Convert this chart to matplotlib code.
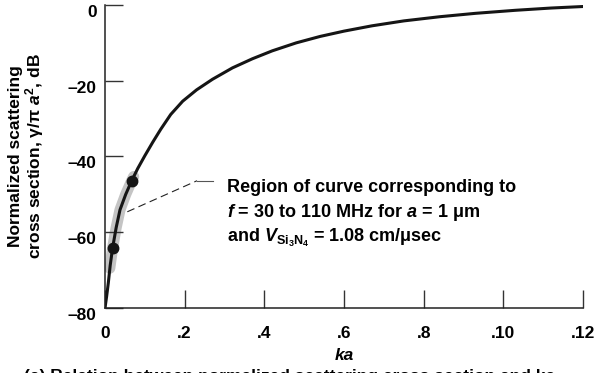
import matplotlib
matplotlib.use("Agg")
import matplotlib.pyplot as plt
import matplotlib.transforms as mtransforms

# fonts: Helvetica-like bold everywhere
plt.rcParams['font.family'] = ['Liberation Sans', 'DejaVu Sans']
plt.rcParams['font.weight'] = 'bold'
plt.rcParams['mathtext.fontset'] = 'custom'
plt.rcParams['mathtext.rm'] = 'Liberation Sans:bold'
plt.rcParams['mathtext.it'] = 'Liberation Sans:bold:italic'
plt.rcParams['mathtext.bf'] = 'Liberation Sans:bold'

# curve (ka, dB)
ka = [0, 0.0004, 0.00083, 0.0013, 0.0019, 0.0028, 0.00376, 0.0052, 0.0067, 0.0082,
      0.0100, 0.0120, 0.0140, 0.0165, 0.0195, 0.0230, 0.0270, 0.0320, 0.0370, 0.0420,
      0.0480, 0.0540, 0.0600, 0.0670, 0.0750, 0.0840, 0.0930, 0.1030, 0.1120, 0.1200]
db = [-80, -77.0, -73.4, -68.8, -64.2, -58.8, -54.1, -50.0, -46.4, -43.2,
      -39.8, -36.2, -32.8, -28.9, -25.4, -22.4, -19.6, -16.6, -14.2, -12.1,
      -10.0, -8.3, -6.9, -5.5, -4.2, -3.1, -2.2, -1.4, -0.8, -0.4]

# highlighted region (30 to 110 MHz)
band_ka = [0.0012, 0.0019, 0.0028, 0.00376, 0.0052, 0.0067, 0.0072]
band_db = [-69.5, -64.2, -58.8, -54.1, -50.0, -46.4, -45.3]
dot_ka = [0.0019, 0.0067]
dot_db = [-64.2, -46.4]

xticks = [0, 0.02, 0.04, 0.06, 0.08, 0.10, 0.12]
xticklabels = ['0', '.2', '.4', '.6', '.8', '.10', '.12']
yticks = [0, -20, -40, -60, -80]
yticklabels = ['0', '\u201320', '\u201340', '\u201360', '\u201380']

fig = plt.figure(figsize=(6, 3.73), dpi=100)
ax = fig.add_axes([0.175, 0.1743, 0.7967, 0.8123])

ax.plot(band_ka, band_db, color='#c4c4c4', lw=8, solid_capstyle='round', zorder=1)
ax.plot(ka, db, color='#151515', lw=2.2, zorder=2)
ax.plot(dot_ka, dot_db, 'o', color='#151515', markersize=7.5, zorder=3)

# leader line to the note
ax.plot([0.0056, 0.0231], [-54.6, -46.4], color='#222222', lw=0.8, dashes=(7, 4), zorder=2)
ax.plot([0.0231, 0.0272], [-46.4, -46.4], color='#555555', lw=0.8, zorder=2)

note_x = 0.0306
ax.text(note_x, -49.3, 'Region of curve corresponding to', fontsize=13, va='baseline')
ax.text(note_x, -55.9, '$f$ = 30 to 110 MHz for $a$ = 1 \u03bcm', fontsize=13, va='baseline')
ax.text(note_x, -62.5, 'and $V_{\\mathrm{Si_3N_4}}$ = 1.08 cm/\u03bcsec', fontsize=13,
        va='baseline')

ax.set_xlim(0, 0.12)
ax.set_ylim(-80, 0)
ax.set_xticks(xticks)
ax.set_xticklabels(xticklabels)
ax.set_yticks(yticks)
ax.set_yticklabels(yticklabels)

for s in ['top', 'right']:
    ax.spines[s].set_visible(False)
for s in ['left', 'bottom']:
    ax.spines[s].set_linewidth(1.1)
    ax.spines[s].set_color('#222222')

ax.tick_params(axis='both', direction='in', length=13, width=1.0, color='#333333',
               labelsize=12.5)
ax.tick_params(axis='x', pad=13)
ax.tick_params(axis='y', pad=6)

# y labels sit a little below their ticks
off = mtransforms.ScaledTranslation(0, -6 / 100, fig.dpi_scale_trans)
for lab in ax.get_yticklabels():
    lab.set_transform(lab.get_transform() + off)

ax.set_xlabel('ka', fontsize=12.5, style='italic', fontweight='bold', labelpad=5)

# two-line y title
fig.text(0.026, 0.5804, 'Normalized scattering', fontsize=12.5, fontweight='bold',
         rotation=90, ha='center', va='center')
fig.text(0.058, 0.5804, 'cross section, \u03b3/\u03c0 $a^2$, dB', fontsize=12.5,
         fontweight='bold', rotation=90, ha='center', va='center')

fig.text(0.04, -0.022, '(a) Relation between normalized scattering cross section and ka',
         fontsize=12.5, va='baseline')

fig.savefig('out.png', dpi=100)
